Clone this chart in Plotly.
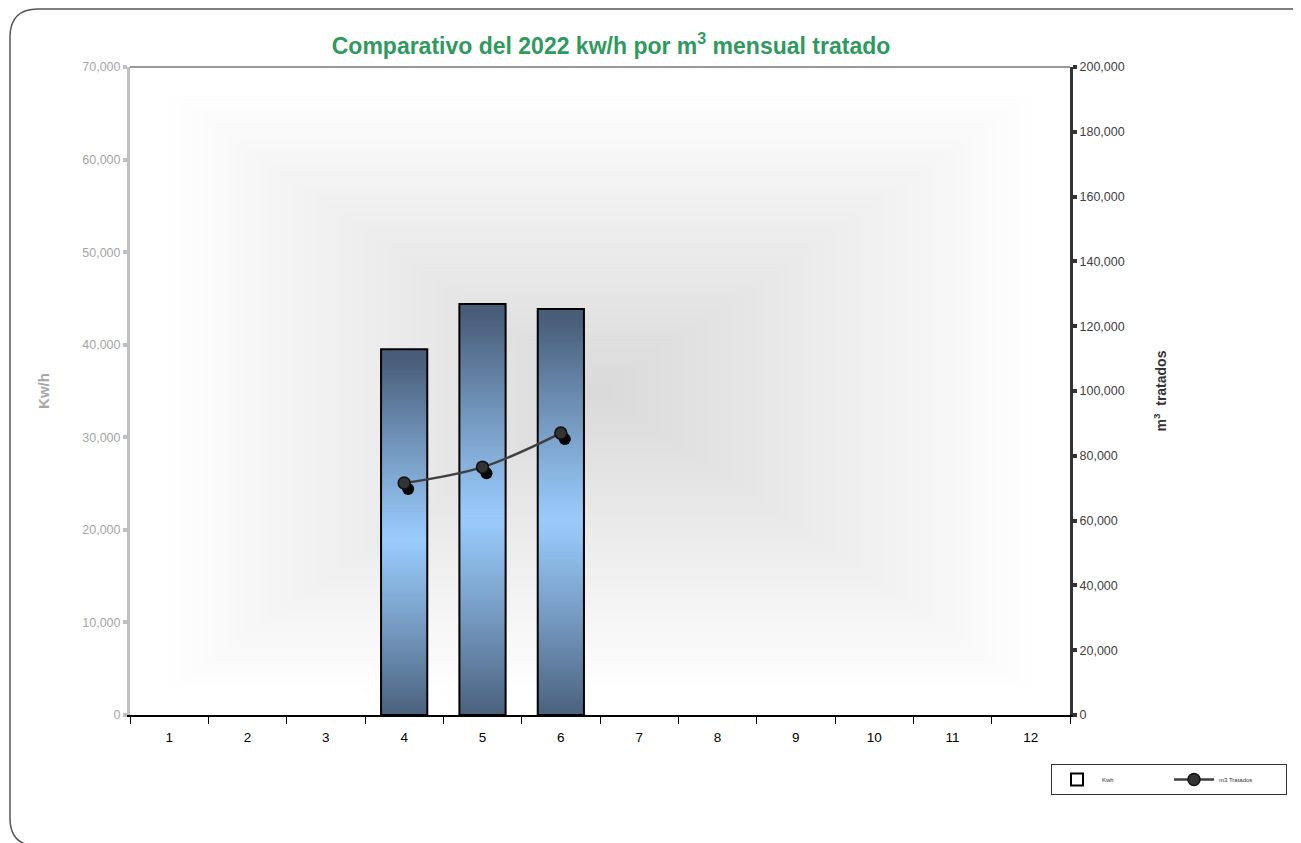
import base64
import struct
import zlib

import numpy as np
import plotly.graph_objects as go

# ---------------- data ----------------
months = [1, 2, 3, 4, 5, 6, 7, 8, 9, 10, 11, 12]
month_labels = ["1", "2", "3", "4", "5", "6", "7", "8", "9", "10", "11", "12"]
kwh = [None, None, None, 39500, 44400, 43850, None, None, None, None, None, None]
m3_tratados = [None, None, None, 71600, 76500, 87000, None, None, None, None, None, None]

title_text = "Comparativo del 2022 kw/h por m<sup>3</sup> mensual tratado"
left_title = "Kw/h"
right_title = "m<sup>3</sup>  tratados"

# ---------------- layout geometry (page has an 8px body margin) ----------------
OFF = 8
W, H = 1301 - OFF, 843 - OFF
ML, MT = 130 - OFF, 67 - OFF
MR = W - (1070 - OFF)
MB = H - (715 - OFF)
PW, PH = W - ML - MR, H - MT - MB

X_RANGE = [0.5, 12.5]
Y1_RANGE = [0, 70000]
Y2_RANGE = [0, 200000]


def png_uri(arr):
    arr = np.asarray(arr, dtype=np.uint8)
    h, w, _ = arr.shape
    raw = b"".join(b"\x00" + arr[i].tobytes() for i in range(h))

    def chunk(tag, data):
        c = struct.pack(">I", len(data)) + tag + data
        return c + struct.pack(">I", zlib.crc32(tag + data) & 0xFFFFFFFF)

    png = b"\x89PNG\r\n\x1a\n"
    png += chunk(b"IHDR", struct.pack(">IIBBBBB", w, h, 8, 2, 0, 0, 0))
    png += chunk(b"IDAT", zlib.compress(raw, 9))
    png += chunk(b"IEND", b"")
    return "data:image/png;base64," + base64.b64encode(png).decode()


def px2paper(sx, sy):
    # screen pixel -> paper coordinates
    px, py = sx - OFF, sy - OFF
    return (px - ML) / PW, (H - MB - py) / PH


# background: rectangular "from centre" gradient
gw, gh = 240, 170
xs = (np.arange(gw) + 0.5) / gw - 0.5
ys = (np.arange(gh) + 0.5) / gh - 0.5
X, Y = np.meshgrid(xs, ys)
t = np.clip(np.maximum(np.abs(X) / 0.46, np.abs(Y) / 0.46), 0, 1)
g = 218 + (255 - 218) * t
bg = np.stack([g, g, g], axis=-1)

# bar gradient: dark top/bottom, light blue middle
bh = 200
yy = (np.arange(bh) + 0.5) / bh
tb = np.clip(np.abs(yy - 0.52) / 0.5, 0, 1) ** 1.1
dark = np.array([72, 93, 120])
light = np.array([154, 204, 252])
col = light[None, :] * (1 - tb[:, None]) + dark[None, :] * tb[:, None]
bar_img = np.repeat(col[:, None, :], 4, axis=1)

bar_width = 0.59

# drop-shadow offset for the line markers (screen px -> axis units)
sh_dx = 4 * (X_RANGE[1] - X_RANGE[0]) / PW
sh_dy = 6 * (Y2_RANGE[1] - Y2_RANGE[0]) / PH

fig = go.Figure()

fig.add_trace(go.Bar(
    x=months, y=kwh, name="Kwh",
    width=bar_width,
    marker=dict(color="rgba(0,0,0,0)", line=dict(color="#000000", width=2)),
    xaxis="x", yaxis="y",
))

# marker shadows (same data, drawn on an offset invisible axis pair)
fig.add_trace(go.Scatter(
    x=months, y=m3_tratados, name="m3 Tratados (sombra)",
    mode="markers", showlegend=False, hoverinfo="skip",
    marker=dict(symbol="circle", size=12, color="#000000"),
    xaxis="x2", yaxis="y2",
))

fig.add_trace(go.Scatter(
    x=months, y=m3_tratados, name="m3 Tratados",
    mode="lines+markers",
    line=dict(color="#3f3f3f", width=2.5, shape="spline"),
    marker=dict(symbol="circle", size=12, color="#333333",
                line=dict(color="#111111", width=1.5)),
    xaxis="x3", yaxis="y3",
    connectgaps=False,
))

images = [dict(
    source=png_uri(bg), xref="x domain", yref="y domain",
    x=0, y=1, sizex=1, sizey=1, sizing="stretch",
    xanchor="left", yanchor="top", layer="below",
)]
bar_src = png_uri(bar_img)
for m, v in zip(months, kwh):
    if v is None:
        continue
    images.append(dict(
        source=bar_src, xref="x", yref="y",
        x=m - bar_width / 2, y=v, sizex=bar_width, sizey=v,
        sizing="stretch", xanchor="left", yanchor="top", layer="below",
    ))

sans = "Liberation Sans, Arial, sans-serif"

# rounded outer frame (screen pixel positions)
x0, y0 = px2paper(10, 9)
rx = 28 / PW
ry = 28 / PH
x1, _ = px2paper(1320, 9)
_, y1 = px2paper(10, 846)
frame_path = (
    f"M {x1},{y0} L {x0 + rx},{y0} Q {x0},{y0} {x0},{y0 - ry} "
    f"L {x0},{y1 + ry} Q {x0},{y1} {x0 + rx},{y1} L {x1},{y1}"
)

lgx, lgy = px2paper(1051, 764)

hidden = dict(visible=False, showgrid=False, zeroline=False, fixedrange=True)

fig.update_layout(
    width=W, height=H,
    margin=dict(l=ML, r=MR, t=MT, b=MB, pad=0, autoexpand=False),
    paper_bgcolor="white",
    plot_bgcolor="rgba(0,0,0,0)",
    images=images,
    title=dict(
        text=title_text,
        x=(611 - OFF) / W, xref="container", xanchor="center",
        y=1 - (46 - OFF) / H, yref="container", yanchor="middle",
        font=dict(family=sans, size=23, color="#2e9a5e", weight="bold"),
    ),
    xaxis=dict(
        range=X_RANGE,
        tickmode="array", tickvals=months, ticktext=month_labels,
        ticks="", showgrid=False, zeroline=False,
        showline=True, linecolor="#000000", linewidth=2,
        tickfont=dict(family=sans, size=13.5, color="#000000"),
        ticklabelstandoff=9,
        minor=dict(tickvals=[m + 0.5 for m in [0] + months], ticks="outside",
                   ticklen=7, tickwidth=1.2, tickcolor="#000000", showgrid=False),
    ),
    xaxis2=dict(range=[X_RANGE[0] - sh_dx, X_RANGE[1] - sh_dx],
                overlaying="x", anchor="y2", **hidden),
    xaxis3=dict(range=X_RANGE, overlaying="x", anchor="y3", **hidden),
    yaxis=dict(
        range=Y1_RANGE, dtick=10000, tickformat=",",
        showgrid=False, zeroline=False,
        showline=True, linecolor="#c0c0c0", linewidth=3,
        ticks="outside", ticklen=4, tickwidth=4, tickcolor="#c0c0c0",
        tickfont=dict(family=sans, size=12.5, color="#a6a6a6"),
        title=dict(text=left_title, standoff=30,
                   font=dict(family=sans, size=15, color="#a6a6a6", weight="bold")),
    ),
    yaxis2=dict(range=[Y2_RANGE[0] + sh_dy, Y2_RANGE[1] + sh_dy],
                overlaying="y", anchor="x2", **hidden),
    yaxis3=dict(
        range=Y2_RANGE, dtick=20000, tickformat=",",
        overlaying="y", side="right", anchor="x3",
        showgrid=False, zeroline=False,
        showline=True, linecolor="#333333", linewidth=3,
        ticks="outside", ticklen=4, tickwidth=4, tickcolor="#333333",
        tickfont=dict(family=sans, size=12.5, color="#404040"),
        title=dict(text=right_title, standoff=33,
                   font=dict(family=sans, size=14, color="#333333", weight="bold")),
    ),
    showlegend=True,
    legend=dict(
        orientation="h",
        x=lgx, y=lgy,
        xanchor="left", yanchor="top",
        bgcolor="white", bordercolor="#333333", borderwidth=1,
        font=dict(family=sans, size=6, color="#333333"),
        entrywidth=62, entrywidthmode="pixels",
        itemwidth=40,
    ),
    shapes=[
        dict(type="line", xref="paper", yref="paper", x0=0, x1=1, y0=1, y1=1,
             line=dict(color="#777777", width=1.5), layer="above"),
        dict(type="path", xref="paper", yref="paper", path=frame_path,
             line=dict(color="#555555", width=1.5), layer="above"),
    ],
)

fig.write_html("out.html")
